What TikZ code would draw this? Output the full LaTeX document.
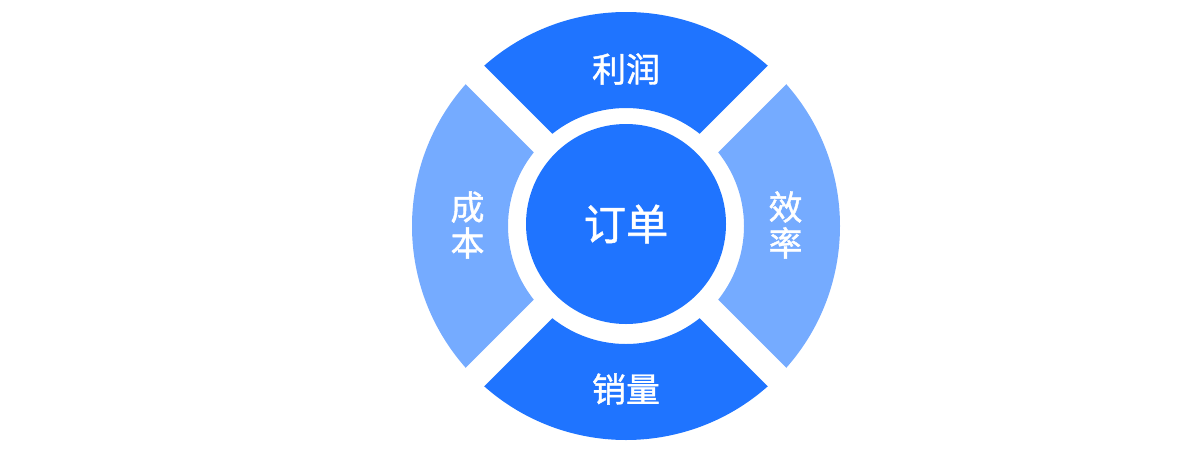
\documentclass[tikz,border=0pt]{standalone}
\usepackage{fontspec}
\newfontfamily\cjk[FakeBold=1.2]{Noto Sans CJK SC}
\usetikzlibrary{positioning}
\definecolor{kraeftig}{HTML}{1F74FF}
\definecolor{hell}{HTML}{75ABFF}
\tikzset{
  feld/.style={text=white, font=\cjk\fontsize{19.3}{20.5}\selectfont, align=center},
}

\begin{document}
\begin{tikzpicture}
    \useasboundingbox (-12.52,-4.48) rectangle (11.48,4.52);
    % Ring: oben und unten kraeftig, links und rechts hell
    \fill[kraeftig] (45:2.36) arc[start angle=45, end angle=135, radius=2.36]
      -- (135:4.28) arc[start angle=135, end angle=45, radius=4.28] -- cycle;
    \fill[kraeftig] (225:2.36) arc[start angle=225, end angle=315, radius=2.36]
      -- (315:4.28) arc[start angle=315, end angle=225, radius=4.28] -- cycle;
    \fill[hell] (135:2.36) arc[start angle=135, end angle=225, radius=2.36]
      -- (225:4.28) arc[start angle=225, end angle=135, radius=4.28] -- cycle;
    \fill[hell] (-45:2.36) arc[start angle=-45, end angle=45, radius=2.36]
      -- (45:4.28) arc[start angle=45, end angle=-45, radius=4.28] -- cycle;
    % weisse Fugen entlang der Diagonalen
    \draw[white, line width=0.52cm] (45:2.2) -- (45:4.5);
    \draw[white, line width=0.52cm] (135:2.2) -- (135:4.5);
    \draw[white, line width=0.52cm] (225:2.2) -- (225:4.5);
    \draw[white, line width=0.52cm] (315:2.2) -- (315:4.5);
    % Mitte
    \node[circle, fill=kraeftig, minimum size=4cm, inner sep=0pt, text=white,
      font=\cjk\fontsize{24}{26}\selectfont] (auftrag) at (0,0.04) {订单};
    % Beschriftung der Felder
    \node[feld] (gewinn) at (0,3.14) {利润};
    \node[feld] (absatz) at (0,-3.26) {销量};
    \node[feld] (kosten) at (-3.17,0.02) {成\\本};
    \node[feld] (effizienz) at (3.19,0.02) {效\\率};
  \end{tikzpicture}
\end{document}
